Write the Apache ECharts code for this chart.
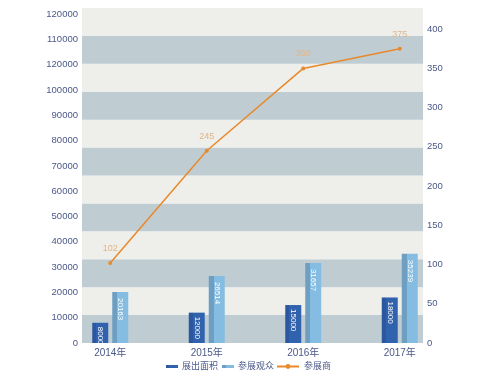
<!DOCTYPE html>
<html>
<head>
<meta charset="utf-8">
<script src="https://cdn.jsdelivr.net/npm/echarts@6/dist/echarts.min.js"></script>
<style>html,body{margin:0;padding:0;background:#fff}#c{width:500px;height:388px}</style>
</head>
<body>
<div id="c"></div>
<script>
const categories = ['2014年', '2015年', '2016年', '2017年'];
const areaValues = [8000, 12000, 15000, 18000];       // 展出面积
const visitorValues = [20163, 26514, 31657, 35239];   // 参展观众
const exhibitorValues = [102, 245, 350, 375];         // 参展商
const leftTickLabels = ['0', '10000', '20000', '30000', '40000', '50000', '60000', '70000', '80000', '90000', '100000', '120000', '110000', '120000'];
const seriesNames = ['展出面积', '参展观众', '参展商'];

const FONT = '"Liberation Sans", Arial, "Noto Sans CJK SC", sans-serif';
const LABEL_COLOR = '#4a5888';
const LEFT_MAX = 132400, RIGHT_MAX = 427;

const chart = echarts.init(document.getElementById('c'), null, {renderer: 'canvas'});
chart.setOption({
  animation: false,
  textStyle: {fontFamily: FONT},
  legend: [
    {
      data: [seriesNames[0], seriesNames[1]],
      left: 166, top: 362, itemWidth: 12, itemHeight: 3, itemGap: 4,
      icon: 'rect', padding: 0,
      textStyle: {color: LABEL_COLOR, fontSize: 9, fontFamily: FONT, padding: [0, 0, 0, -1]}
    },
    {
      data: [seriesNames[2]],
      left: 276, top: 362, itemWidth: 22, itemHeight: 6, padding: 0,
      textStyle: {color: LABEL_COLOR, fontSize: 9, fontFamily: FONT}
    }
  ],
  grid: [
    {left: 82, right: 77, top: 8, bottom: 45},
    {left: 62, right: 52, top: 8, bottom: 45}
  ],
  xAxis: [
    {gridIndex: 0, type: 'category', data: categories, show: false},
    {
      gridIndex: 1, type: 'category', data: categories,
      axisLine: {show: false}, axisTick: {show: false},
      axisLabel: {color: LABEL_COLOR, fontSize: 10, margin: 5, fontFamily: FONT}
    }
  ],
  yAxis: [
    {
      gridIndex: 0, type: 'value', min: 0, max: LEFT_MAX, interval: 10000,
      axisLine: {show: false}, axisTick: {show: false}, splitLine: {show: false},
      axisLabel: {
        color: LABEL_COLOR, fontSize: 9.5, margin: 4, fontFamily: FONT,
        formatter: v => (v % 10000 === 0 ? leftTickLabels[v / 10000] : '')
      }
    },
    {
      gridIndex: 0, type: 'value', position: 'right', min: 0, max: RIGHT_MAX, interval: 50,
      axisLine: {show: false}, axisTick: {show: false}, splitLine: {show: false},
      axisLabel: {
        color: LABEL_COLOR, fontSize: 9.5, margin: 4, fontFamily: FONT,
        formatter: v => (v % 50 === 0 ? String(v) : '')
      }
    },
    {
      gridIndex: 0, type: 'value', min: 0, max: 12, interval: 1,
      axisLine: {show: false}, axisTick: {show: false}, axisLabel: {show: false},
      splitLine: {show: false},
      splitArea: {show: true, areaStyle: {color: ['#bfcdd3', '#eeeeeb']}}
    },
    {gridIndex: 1, type: 'value', min: 0, max: LEFT_MAX, show: false, splitLine: {show: false}},
    {gridIndex: 1, type: 'value', min: 0, max: RIGHT_MAX, show: false, splitLine: {show: false}}
  ],
  series: [
    {
      name: seriesNames[0], type: 'bar', xAxisIndex: 1, yAxisIndex: 3,
      data: areaValues, barWidth: 16, barGap: '25%',
      itemStyle: {
        color: new echarts.graphic.LinearGradient(0, 0, 1, 0, [
          {offset: 0, color: '#2a57a0'}, {offset: 0.25, color: '#2a57a0'},
          {offset: 0.25, color: '#3162ad'}, {offset: 1, color: '#3162ad'}
        ])
      },
      label: {
        show: true, position: 'insideTop', rotate: -90, align: 'left', verticalAlign: 'middle',
        distance: 4, color: '#ffffff', fontSize: 8, fontFamily: FONT
      }
    },
    {
      name: seriesNames[1], type: 'bar', xAxisIndex: 1, yAxisIndex: 3,
      data: visitorValues, barWidth: 16, barGap: '25%',
      itemStyle: {
        color: new echarts.graphic.LinearGradient(0, 0, 1, 0, [
          {offset: 0, color: '#6e9fc3'}, {offset: 0.3, color: '#6e9fc3'},
          {offset: 0.3, color: '#84bde1'}, {offset: 1, color: '#84bde1'}
        ])
      },
      label: {
        show: true, position: 'insideTop', rotate: -90, align: 'left', verticalAlign: 'middle',
        distance: 6, color: '#ffffff', fontSize: 8, fontFamily: FONT
      }
    },
    {
      name: seriesNames[2], type: 'line', xAxisIndex: 1, yAxisIndex: 4,
      data: exhibitorValues,
      symbol: 'circle', symbolSize: 4,
      lineStyle: {color: '#e8892b', width: 1.5},
      itemStyle: {color: '#e8892b'},
      label: {show: true, position: 'top', distance: 8, color: '#e3b585', fontSize: 9, fontFamily: FONT}
    }
  ]
});
</script>
</body>
</html>
